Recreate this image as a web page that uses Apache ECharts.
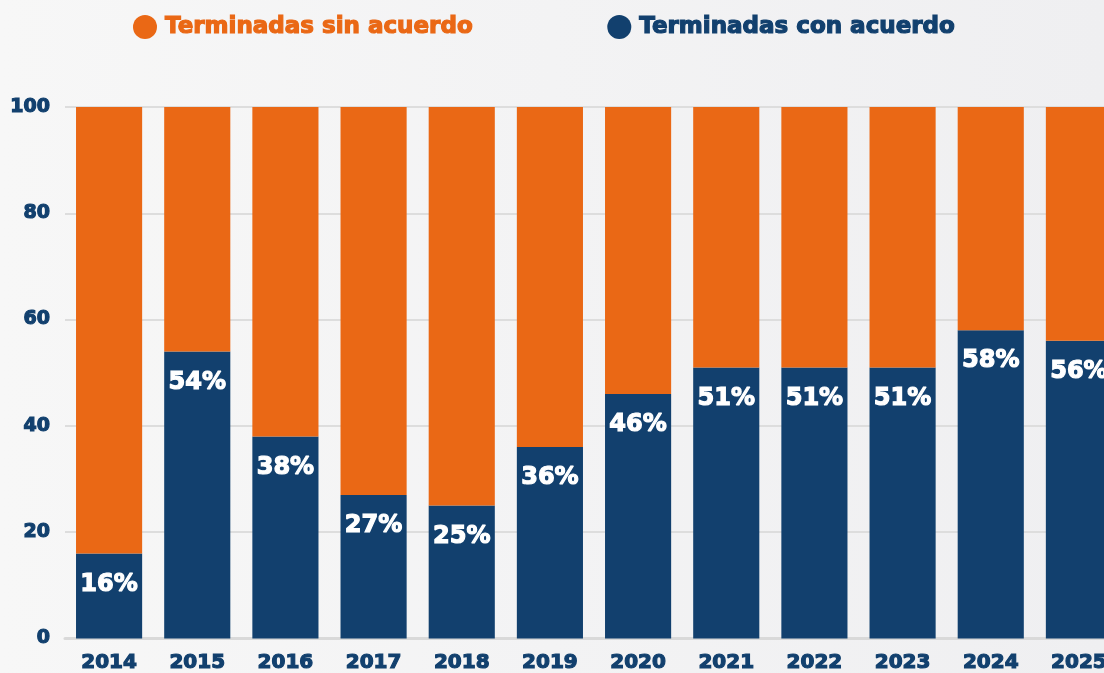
<!DOCTYPE html>
<html><head><meta charset="utf-8">
<script src="https://cdn.jsdelivr.net/npm/echarts@6/dist/echarts.min.js"></script>
<style>html,body{margin:0;padding:0;overflow:hidden;width:1104px;height:673px;background:linear-gradient(90deg,#f7f7f7,#efeff1);}#c{width:1123px;height:673px;}</style>
</head><body><div id="c"></div>
<script>
const years = ['2014','2015','2016','2017','2018','2019','2020','2021','2022','2023','2024','2025'];
const conAcuerdo = [16,54,38,27,25,36,46,51,51,51,58,56];
const sinAcuerdo = [84,46,62,73,75,64,54,49,49,49,42,44];
const yTicks = [0,20,40,60,80,100];
const NAVY = '#12406e', ORANGE = '#ea6815';
const FONT = 'DejaVu Sans';
const heavy = c => ({textBorderColor: c, textBorderWidth: 1.2});
const chart = echarts.init(document.getElementById('c'), null, {renderer:'canvas'});
chart.setOption({
  backgroundColor: 'transparent',
  animation: false,
  legend: {
    top: 10, left: 128, itemGap: 134, icon: 'circle', itemWidth: 24, itemHeight: 24,
    textStyle: {fontFamily: FONT, fontWeight: 'bold', fontSize: 23, padding: [0,0,0,3]},
    data: [
      {name: 'Terminadas sin acuerdo', textStyle: Object.assign({color: ORANGE}, heavy(ORANGE))},
      {name: 'Terminadas con acuerdo', textStyle: Object.assign({color: NAVY}, heavy(NAVY))}
    ]
  },
  grid: {left: 65, right: 0, top: 107, bottom: 34},
  xAxis: {
    type: 'category', data: years,
    axisLine: {show: true, lineStyle: {color: '#d9d9d9', width: 3}},
    axisTick: {show: false},
    axisLabel: Object.assign({margin: 14, color: NAVY, fontFamily: FONT, fontWeight: 'bold', fontSize: 20}, heavy(NAVY))
  },
  yAxis: {
    type: 'value', min: 0, max: 100, interval: 20,
    axisLine: {show: false}, axisTick: {show: false},
    splitLine: {lineStyle: {color: '#dddddd', width: 2}},
    axisLabel: Object.assign({margin: 15, color: NAVY, fontFamily: FONT, fontWeight: 'bold', fontSize: 19,
      formatter: v => yTicks.includes(v) ? String(v) : ''}, heavy(NAVY))
  },
  series: [
    {
      name: 'Terminadas con acuerdo', type: 'bar', stack: 't', barCategoryGap: '25%',
      itemStyle: {color: NAVY}, data: conAcuerdo,
      label: Object.assign({show: true, position: 'insideTop', distance: 19, color: '#fff',
        fontFamily: FONT, fontWeight: 'bold', fontSize: 24, formatter: p => p.value + '%'}, heavy('#fff'))
    },
    {
      name: 'Terminadas sin acuerdo', type: 'bar', stack: 't', barCategoryGap: '25%',
      itemStyle: {color: ORANGE}, data: sinAcuerdo
    }
  ]
});
</script></body></html>
